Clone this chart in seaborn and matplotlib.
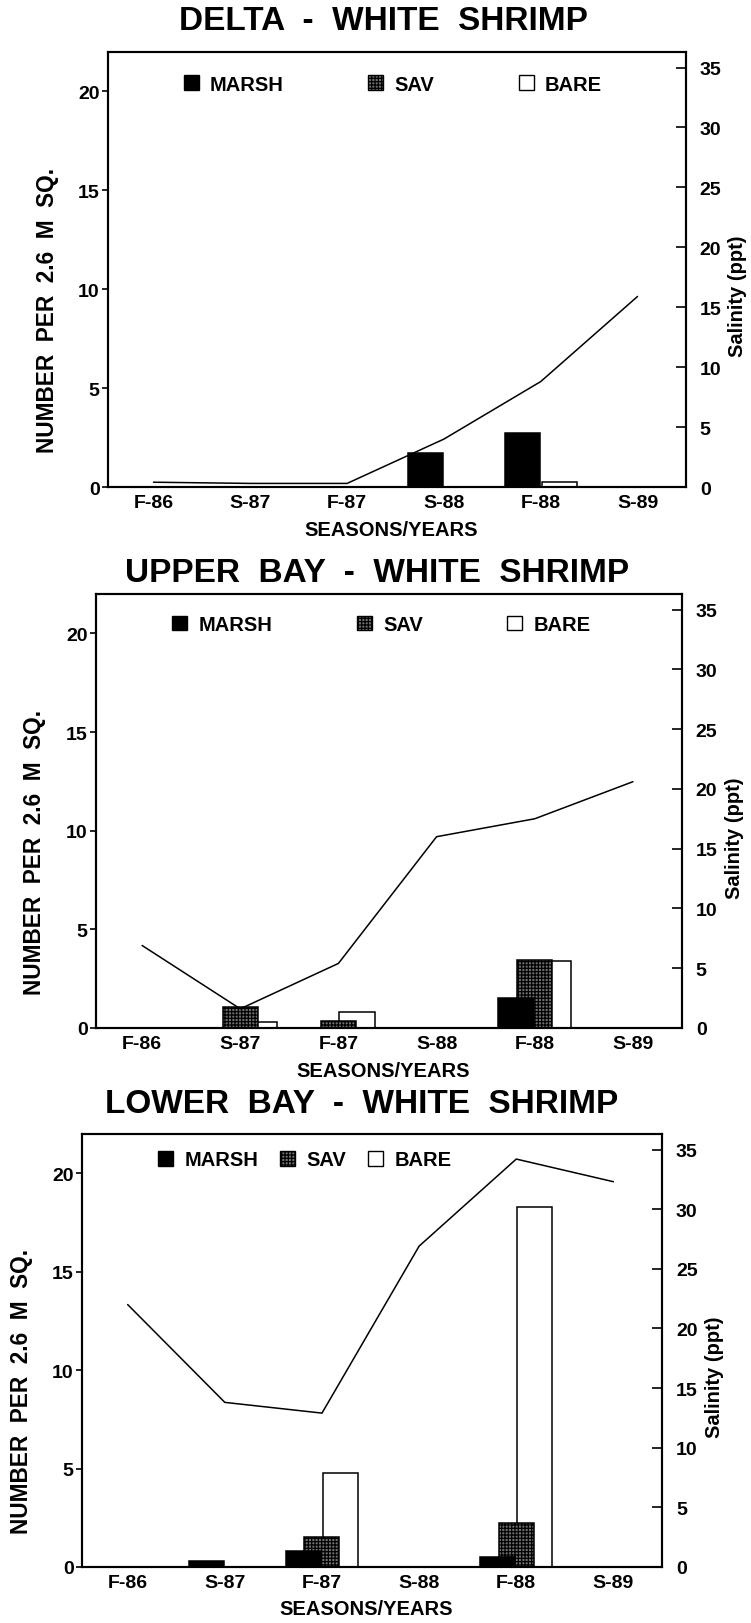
import numpy as np
import pandas as pd
import matplotlib.pyplot as plt
import seaborn as sns
from matplotlib.patches import Patch

# Seasons sampled
seasons = ['F-86', 'S-87', 'F-87', 'S-88', 'F-88', 'S-89']

# Delta - white shrimp (number per 2.6 m sq.) and salinity (ppt)
delta_marsh = [0, 0, 0, 1.7, 2.75, 0]
delta_sav = [0, 0, 0, 0, 0, 0]
delta_bare = [0, 0, 0, 0, 0.25, 0]
delta_salinity = [0.4, 0.3, 0.3, 4.0, 8.8, 15.9]

# Upper bay
upper_marsh = [0, 0, 0, 0, 1.5, 0]
upper_sav = [0, 1.05, 0.35, 0, 3.45, 0]
upper_bare = [0, 0.3, 0.8, 0, 3.4, 0]
upper_salinity = [6.9, 1.6, 5.4, 16.0, 17.5, 20.6]

# Lower bay
lower_marsh = [0, 0.3, 0.8, 0, 0.5, 0]
lower_sav = [0, 0, 1.5, 0, 2.25, 0]
lower_bare = [0, 0, 4.8, 0, 18.3, 0]
lower_salinity = [22.0, 13.8, 12.9, 26.9, 34.2, 32.3]

habitats = ['MARSH', 'SAV', 'BARE']

sns.set_theme(style='white')
plt.rcParams['font.family'] = ['Liberation Sans', 'DejaVu Sans']
plt.rcParams['font.weight'] = 'bold'
plt.rcParams['axes.labelweight'] = 'bold'
plt.rcParams['text.color'] = 'black'
plt.rcParams['axes.labelcolor'] = 'black'
plt.rcParams['xtick.color'] = 'black'
plt.rcParams['ytick.color'] = 'black'
plt.rcParams['hatch.linewidth'] = 0.9

fig = plt.figure(figsize=(7.51, 16.24), dpi=100)

panels = [
    dict(title='DELTA  -  WHITE  SHRIMP', rect=[0.1438, 0.6995, 0.7696, 0.2679],
         title_xy=(0.510, 0.9865), legend_x=0.131, legend_y=0.926, colsp=4.2,
         marsh=delta_marsh, sav=delta_sav, bare=delta_bare, sal=delta_salinity),
    dict(title='UPPER  BAY  -  WHITE  SHRIMP', rect=[0.1278, 0.3664, 0.7803, 0.2672],
         title_xy=(0.502, 0.647), legend_x=0.130, legend_y=0.930, colsp=4.2,
         marsh=upper_marsh, sav=upper_sav, bare=upper_bare, sal=upper_salinity),
    dict(title='LOWER  BAY  -  WHITE  SHRIMP', rect=[0.1092, 0.0345, 0.7723, 0.2666],
         title_xy=(0.482, 0.3196), legend_x=0.131, legend_y=0.940, colsp=1.1,
         marsh=lower_marsh, sav=lower_sav, bare=lower_bare, sal=lower_salinity),
]

styles = {
    'BARE': dict(color='white', hatch=None, offset=0.19),
    'SAV': dict(color='#707070', hatch='+++++', offset=0.0),
    'MARSH': dict(color='black', hatch=None, offset=-0.19),
}

x = np.arange(len(seasons))

for p in panels:
    ax = fig.add_axes(p['rect'])
    # back to front: bare, sav, marsh
    for hab, vals in [('BARE', p['bare']), ('SAV', p['sav']), ('MARSH', p['marsh'])]:
        st = styles[hab]
        sns.barplot(x=x + st['offset'], y=vals, native_scale=True, width=0.36,
                    color=st['color'], saturation=1, edgecolor='black', linewidth=1.1,
                    hatch=st['hatch'], errorbar=None, ax=ax)
    ax.set_xlim(-0.47, 5.5)
    ax.set_ylim(0, 22)
    ax.set_xticks(x)
    ax.set_xticklabels(seasons, fontweight='bold')
    ax.set_yticks([0, 5, 10, 15, 20])
    ax.set_yticklabels([0, 5, 10, 15, 20], fontweight='bold')
    ax.tick_params(axis='x', length=0, pad=5, labelsize=14)
    ax.tick_params(axis='y', direction='out', length=4, width=1.2, pad=2, labelsize=14)
    ax.set_xlabel('SEASONS/YEARS', fontsize=14.5, fontweight='bold', va='center')
    ax.xaxis.set_label_coords(0.49, -0.097)
    ax.set_ylabel('NUMBER  PER  2.6  M  SQ.', fontsize=16.3, fontweight='bold', va='center')
    ax.yaxis.set_label_coords(-0.105, 0.407)
    for s in ax.spines.values():
        s.set_linewidth(1.5)
        s.set_color('black')

    ax2 = ax.twinx()
    sns.lineplot(x=x, y=p['sal'], color='black', linewidth=1.1, ax=ax2)
    ax2.set_ylim(0, 36.3)
    ax2.set_yticks(range(0, 36, 5))
    ax2.set_yticklabels(range(0, 36, 5), fontweight='bold')
    ax2.tick_params(axis='y', direction='in', length=7, width=1.2, pad=10, labelsize=14)
    ax2.set_ylabel('Salinity (ppt)', fontsize=14.5, fontweight='bold', rotation=90, va='center')
    ax2.yaxis.set_label_coords(1.09, 0.44)
    for s in ax2.spines.values():
        s.set_linewidth(1.5)
        s.set_color('black')

    handles = [Patch(facecolor='black', edgecolor='black', label='MARSH'),
               Patch(facecolor='#707070', edgecolor='black', hatch='+++++', label='SAV'),
               Patch(facecolor='white', edgecolor='black', label='BARE')]
    ax2.legend(handles=handles, loc='center left', bbox_to_anchor=(p['legend_x'], p['legend_y']),
               ncol=3, frameon=False, handlelength=0.75, handleheight=0.75,
               handletextpad=0.55, columnspacing=p['colsp'], borderpad=0, borderaxespad=0,
               prop={'size': 14.5, 'weight': 'bold'})

    fig.text(p['title_xy'][0], p['title_xy'][1], p['title'], ha='center', va='center',
             fontsize=24, fontweight='bold', color='black')

fig.savefig('out.png', dpi=100)
